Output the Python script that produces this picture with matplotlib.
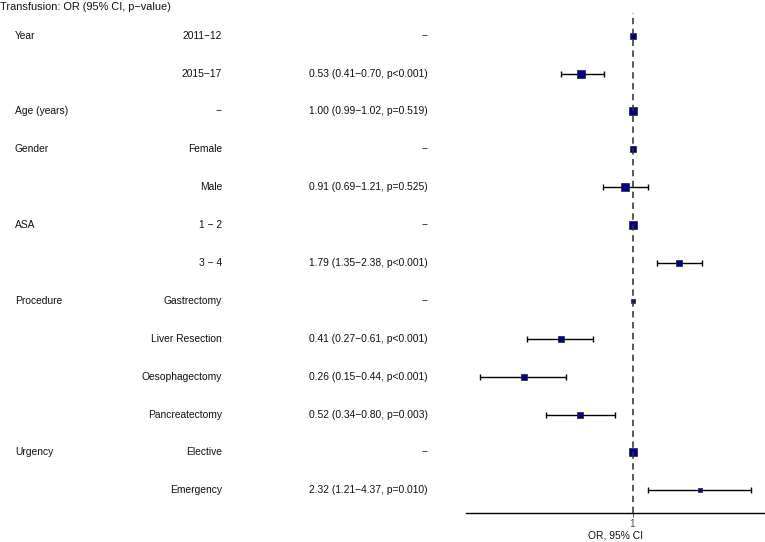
import numpy as np
import matplotlib
matplotlib.use('Agg')
import matplotlib.pyplot as plt

plt.rcParams['font.family'] = ['Liberation Sans', 'DejaVu Sans']

# table columns
variables = ['Year', '', 'Age (years)', 'Gender', '', 'ASA', '', 'Procedure', '', '', '', 'Urgency', '']
levels = ['2011\u221212', '2015\u221217', '\u2212', 'Female', 'Male', '1 \u2212 2', '3 \u2212 4',
          'Gastrectomy', 'Liver Resection', 'Oesophagectomy', 'Pancreatectomy', 'Elective', 'Emergency']
or_text = ['\u2212', '0.53 (0.41\u22120.70, p<0.001)', '1.00 (0.99\u22121.02, p=0.519)', '\u2212',
           '0.91 (0.69\u22121.21, p=0.525)', '\u2212', '1.79 (1.35\u22122.38, p<0.001)', '\u2212',
           '0.41 (0.27\u22120.61, p<0.001)', '0.26 (0.15\u22120.44, p<0.001)',
           '0.52 (0.34\u22120.80, p=0.003)', '\u2212', '2.32 (1.21\u22124.37, p=0.010)']

# odds ratios and 95% CI
odds = np.array([1, 0.53, 1.00, 1, 0.91, 1, 1.79, 1, 0.41, 0.26, 0.52, 1, 2.32])
lower = np.array([np.nan, 0.41, 0.99, np.nan, 0.69, np.nan, 1.35, np.nan, 0.27, 0.15, 0.34, np.nan, 1.21])
upper = np.array([np.nan, 0.70, 1.02, np.nan, 1.21, np.nan, 2.38, np.nan, 0.61, 0.44, 0.80, np.nan, 4.37])
# relative group size (drives marker size)
group_n = np.array([6, 7, 8, 6, 7, 7, 5.5, 4, 6, 5, 6, 8, 3])

W, H = 765, 542
fig = plt.figure(figsize=(W / 100, H / 100), dpi=100)

rows = np.arange(len(levels))
ylim = (len(levels) - 1 + 0.6, -0.6)
ax_bottom = (H - 513) / H
ax_top = (H - 13) / H

# text table
tab = fig.add_axes([0, ax_bottom, 466 / W, ax_top - ax_bottom])
tab.set_xlim(0, 466)
tab.set_ylim(*ylim)
tab.axis('off')
fs = 7.35
for i in rows:
    tab.text(15, i, variables[i], ha='left', va='center', fontsize=fs, color='#111111')
    tab.text(222, i, levels[i], ha='right', va='center', fontsize=fs, color='#111111')
    tab.text(428, i, or_text[i], ha='right', va='center', fontsize=fs, color='#111111')

fig.text(0, 1 - 7 / H, 'Transfusion: OR (95% CI, p\u2212value)', ha='left', va='center',
         fontsize=7.95, color='#111111')

# forest plot
ax = fig.add_axes([466 / W, ax_bottom, 1 - 466 / W, ax_top - ax_bottom])
ax.set_xscale('log')
lo = np.log10(np.nanmin(lower))
hi = np.log10(np.nanmax(upper))
pad = (hi - lo) * 0.05
ax.set_xlim(10 ** (lo - pad), 10 ** (hi + pad))
ax.set_ylim(*ylim)

ok = ~np.isnan(lower)
ax.errorbar(odds[ok], rows[ok], xerr=[odds[ok] - lower[ok], upper[ok] - odds[ok]],
            fmt='none', ecolor='black', elinewidth=1.0, capsize=2.2, capthick=1.0, zorder=2)
for i in rows:
    ax.plot(odds[i], i, marker='s', markersize=group_n[i] * 0.72 * 1.1,
            markerfacecolor='#00008B', markeredgecolor='#222222', markeredgewidth=0.5,
            linestyle='none', zorder=3)
ax.axvline(1, color='#333333', linestyle=(0, (4, 2.8)), linewidth=1.15, zorder=4)

for s in ['top', 'right', 'left']:
    ax.spines[s].set_visible(False)
ax.spines['bottom'].set_linewidth(1.0)
ax.set_yticks([])
ax.set_xticks([1])
ax.set_xticklabels(['1'])
ax.xaxis.set_minor_locator(matplotlib.ticker.NullLocator())
ax.tick_params(axis='x', length=3, width=0.6, color='#333333', labelsize=7.2,
               labelcolor='#4D4D4D', pad=1)
ax.set_xlabel('OR, 95% CI', fontsize=fs, labelpad=1.5, color='#111111')

fig.savefig('out.png', dpi=100)
